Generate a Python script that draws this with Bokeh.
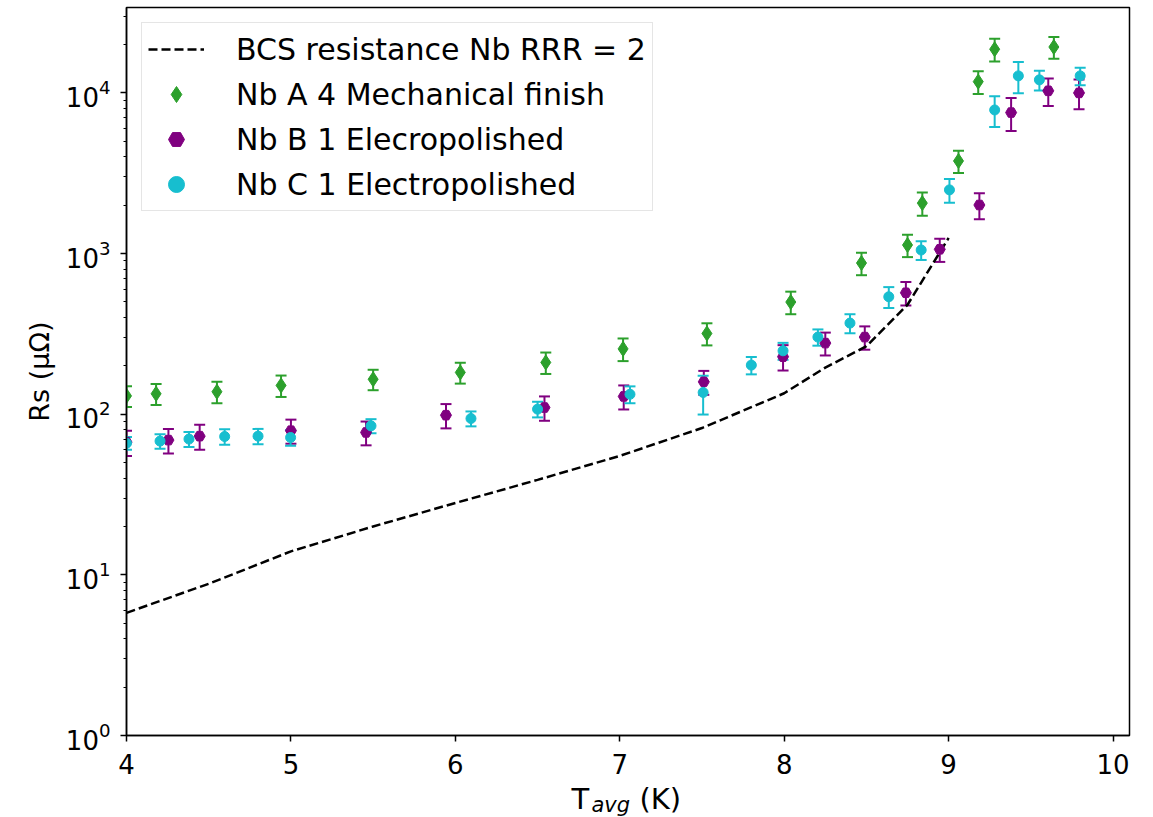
from bokeh.plotting import figure
from bokeh.layouts import column
from bokeh.models import (ColumnDataSource, Range1d, FixedTicker, Whisker, TeeHead,
                          Legend, LegendItem, Label)
from bokeh.embed import file_html
from bokeh.resources import INLINE

# ---------------- data ----------------
bcs_T = [4.0, 4.5, 5.0, 5.5, 6.0, 6.5, 7.0, 7.5, 8.0, 8.25, 8.5, 8.75, 9.0]
bcs_R = [5.8, 8.8, 14, 20, 28, 39, 55, 82, 135, 195, 265, 480, 1250]

A_T = [4.0, 4.18, 4.55, 4.94, 5.50, 6.03, 6.55, 7.02, 7.53, 8.04, 8.47, 8.75, 8.84, 9.06, 9.18, 9.28, 9.64]
A_R = [130, 134, 138, 151, 165, 182, 210, 255, 318, 499, 873, 1130, 2060, 3770, 11750, 18700, 19300]
A_err = [19, 20, 21, 23, 24, 27, 32, 41, 50, 80, 140, 180, 340, 600, 1900, 3000, 3000]

B_T = [4.0, 4.255, 4.445, 5.0, 5.457, 5.943, 6.542, 7.024, 7.511, 7.993, 8.25, 8.49, 8.74, 8.946, 9.187, 9.38, 9.606, 9.793]
B_R = [67, 69, 73, 79, 77, 98.6, 110, 129, 159, 228, 277, 302, 570, 1062, 2005, 7540, 10300, 10000]
B_err = [12, 12, 13, 13.5, 13, 17, 19, 22, 27, 41, 45, 50, 95, 175, 370, 1750, 2000, 2100]

C_T = [4.0, 4.204, 4.38, 4.597, 4.8, 4.998, 5.487, 6.095, 6.5, 7.062, 7.507, 7.80, 7.993, 8.205, 8.40, 8.636, 8.833, 9.005, 9.28, 9.424, 9.552, 9.80]
C_R = [66, 68, 70, 72.6, 73, 71.6, 84.6, 94, 107.5, 133, 136.5, 202, 248, 302, 369, 538, 1052, 2490, 7830, 12760, 12050, 12760]
C_err = [6, 7, 7.5, 8, 8, 8, 8.5, 10, 12, 16, 37, 25, 30, 35, 50, 80, 140, 420, 1700, 2800, 1700, 1600]

labels = ["BCS resistance Nb RRR = 2", "Nb A 4 Mechanical finish",
          "Nb B 1 Elecropolished", "Nb C 1 Electropolished"]
colors = ["#2ca02c", "#800080", "#17becf"]

FONT = "DejaVu Sans"
W = 1150

p = figure(width=W, height=778, y_axis_type="log",
           x_range=Range1d(4, 10.1), y_range=Range1d(1, 34000),
           output_backend="svg", toolbar_location=None,
           min_border_left=126, min_border_right=21, min_border_top=7, min_border_bottom=43)

p.xgrid.visible = False
p.ygrid.visible = False
p.outline_line_color = "black"
p.outline_line_width = 1.5

# axes
p.xaxis.ticker = FixedTicker(ticks=[4, 5, 6, 7, 8, 9, 10])
p.yaxis.ticker = FixedTicker(ticks=[1, 10, 100, 1000, 10000],
                             minor_ticks=[m * 10 ** e for e in range(0, 5) for m in range(2, 10)])
for ax in (p.xaxis, p.yaxis):
    ax.axis_line_color = "black"
    ax.axis_line_width = 1.5
    ax.major_tick_line_color = "black"
    ax.major_tick_line_width = 1.5
    ax.major_tick_out = 6
    ax.major_tick_in = 0
    ax.minor_tick_line_color = "black"
    ax.minor_tick_line_width = 1
    ax.minor_tick_out = 3
    ax.minor_tick_in = 0
    ax.major_label_text_font = FONT
    ax.major_label_text_font_size = "26px"
    ax.major_label_text_color = "black"
    ax.axis_label_text_font = FONT
    ax.axis_label_text_font_style = "normal"
    ax.axis_label_text_color = "black"
p.xaxis.minor_tick_out = 0
p.xaxis.major_label_standoff = 12
p.yaxis.major_label_standoff = 10
p.yaxis.axis_label = "Rs (μΩ)"
p.yaxis.axis_label_text_font_size = "27px"
p.yaxis.axis_label_standoff = 8

# BCS line
line_r = p.line(bcs_T, bcs_R, line_color="black", line_width=2.5, line_dash="9 4")

def series(T, R, err, color, marker, size):
    src = ColumnDataSource(dict(x=T, y=R,
                                upper=[r + e for r, e in zip(R, err)],
                                lower=[r - e for r, e in zip(R, err)]))
    w = Whisker(base="x", upper="upper", lower="lower", source=src, dimension="height",
                line_color=color, line_width=2,
                upper_head=TeeHead(size=11, line_color=color, line_width=2),
                lower_head=TeeHead(size=11, line_color=color, line_width=2))
    p.add_layout(w)
    return p.scatter("x", "y", source=src, marker=marker, size=size,
                     fill_color=color, line_color=color)

rA = series(A_T, A_R, A_err, colors[0], "diamond", 15)
rB = series(B_T, B_R, B_err, colors[1], "hex", 11)
rC = series(C_T, C_R, C_err, colors[2], "circle", 10)

legend = Legend(items=[LegendItem(label=labels[0], renderers=[line_r]),
                       LegendItem(label=labels[1], renderers=[rA]),
                       LegendItem(label=labels[2], renderers=[rB]),
                       LegendItem(label=labels[3], renderers=[rC])],
                location="top_left", margin=15, padding=6,
                label_text_font=FONT, label_text_font_size="30px", label_text_color="black",
                glyph_width=56, glyph_height=40, label_height=40, spacing=5,
                label_standoff=32, border_line_color="#cccccc", border_line_width=1.5,
                background_fill_alpha=0.8)
p.add_layout(legend)

# x axis label strip: T_avg (K)
q = figure(width=W, height=39, x_range=Range1d(0, 1), y_range=Range1d(0, 1),
           output_backend="svg", toolbar_location=None,
           x_axis_location=None, y_axis_location=None,
           min_border_left=0, min_border_right=0, min_border_top=0, min_border_bottom=0)
q.outline_line_color = None
q.xgrid.visible = False
q.ygrid.visible = False
common = dict(x_units="screen", y_units="screen", text_font=FONT, text_color="black",
              text_baseline="alphabetic")
q.add_layout(Label(x=445, y=19, text="T", text_font_size="29px", **common))
q.add_layout(Label(x=465, y=13, text="avg", text_font_size="21px",
                   text_font_style="italic", **common))
q.add_layout(Label(x=513, y=19, text="(K)", text_font_size="29px", **common))

open("out.html", "w").write(file_html(column(p, q, spacing=0), INLINE))
